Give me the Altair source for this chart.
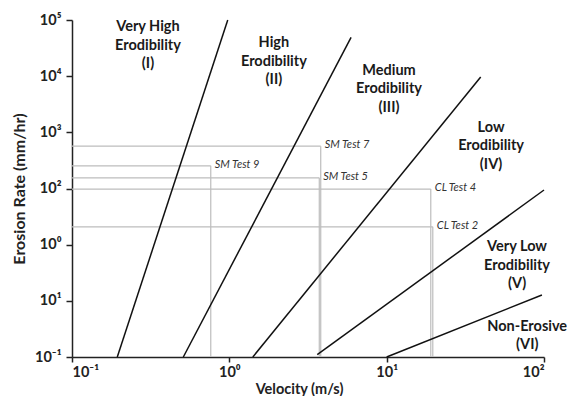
import math

import altair as alt
import pandas as pd

# Boundaries between erodibility zones: straight lines in log-log space,
# each given by its lower and upper end point (velocity m/s, erosion rate mm/hr)
boundary_names = ["I-II", "II-III", "III-IV", "IV-V", "V-VI"]
boundary_v_start = [0.194, 0.51, 1.41, 3.62, 10.0]
boundary_e_start = [0.1, 0.1, 0.1, 0.11, 0.1]
boundary_v_end = [0.977, 5.94, 39.6, 100.0, 97.0]
boundary_e_end = [1.0e5, 4.9e4, 9.7e3, 94.0, 1.27]

# Erosion test results
test_names = ["SM Test 7", "SM Test 9", "SM Test 5", "CL Test 4", "CL Test 2"]
test_velocity = [3.81, 0.762, 3.73, 19.07, 19.64]
test_rate = [568.0, 253.0, 155.0, 97.5, 20.8]

# Zone captions, anchored at their first line (data coordinates)
zone_labels = [
    "Very High\nErodibility\n(I)",
    "High\nErodibility\n(II)",
    "Medium\nErodibility\n(III)",
    "Low\nErodibility\n(IV)",
    "Very Low\nErodibility\n(V)",
    "Non-Erosive\n(VI)",
]
zone_label_v = [0.304, 1.92, 10.35, 46.1, 67.4, 78.2]
zone_label_e = [7.45e4, 3.82e4, 1.24e4, 1.20e3, 9.06, 0.346]

# Axis ticks and the labels printed next to them
x_ticks = [0.1, 1.0, 10.0, 100.0]
x_tick_labels = ["10⁻¹", "10⁰", "10¹", "10²"]
y_ticks = [0.1, 1.0, 10.0, 100.0, 1000.0, 1.0e4, 1.0e5]
y_tick_labels = ["10⁻¹", "10¹", "10⁰", "10²", "10³", "10⁴", "10⁵"]

V_MIN, V_MAX = 0.1, 100.0
E_MIN, E_MAX = 0.1, 1.0e5


def label_expr(values, labels):
    expr = "''"
    for v, lab in reversed(list(zip(values, labels))):
        exp = round(math.log10(v))
        expr = f"round(log(datum.value)/LN10) == {exp} ? '{lab}' : " + expr
    return expr


FONT = "Lato"

boundaries = pd.DataFrame({
    "name": boundary_names,
    "v0": boundary_v_start, "e0": boundary_e_start,
    "v1": boundary_v_end, "e1": boundary_e_end,
})
tests = pd.DataFrame({
    "name": test_names, "v": test_velocity, "e": test_rate,
    "vmin": [V_MIN] * len(test_names), "emin": [E_MIN] * len(test_names),
})
zones = pd.DataFrame({"label": zone_labels, "v": zone_label_v, "e": zone_label_e})

x_scale = alt.Scale(type="log", domain=[V_MIN, V_MAX], nice=False)
y_scale = alt.Scale(type="log", domain=[E_MIN, E_MAX], nice=False)

x_axis = alt.Axis(
    title="Velocity (m/s)", values=x_ticks, grid=False,
    labelExpr=label_expr(x_ticks, x_tick_labels),
    labelFont=FONT, labelFontSize=14.5, labelFontWeight="bold", labelColor="#222",
    labelPadding=3, tickSize=5, tickColor="#222", domainColor="#222",
    domainWidth=1.5, tickWidth=1.5,
    titleFont=FONT, titleFontSize=14.5, titleFontWeight="bold", titleColor="#222",
    titlePadding=4, titleX=227, titleAnchor="middle",
)
y_axis = alt.Axis(
    title="Erosion Rate (mm/hr)", values=y_ticks, grid=False,
    labelExpr=label_expr(y_ticks, y_tick_labels),
    labelFont=FONT, labelFontSize=14.5, labelFontWeight="bold", labelColor="#222",
    labelPadding=5, tickSize=6, tickColor="#222", domainColor="#222",
    domainWidth=1.5, tickWidth=1.5,
    titleFont=FONT, titleFontSize=16, titleFontWeight="bold", titleColor="#222",
    titlePadding=7,
)

# gray guide lines from each test point to the axes
test_h = alt.Chart(tests).mark_rule(color="#bdbdbd", strokeWidth=1.2).encode(
    x=alt.X("vmin:Q", scale=x_scale, axis=x_axis),
    x2="v:Q",
    y=alt.Y("e:Q", scale=y_scale, axis=y_axis),
)
test_v = alt.Chart(tests).mark_rule(color="#bdbdbd", strokeWidth=1.2).encode(
    x=alt.X("v:Q", scale=x_scale),
    y=alt.Y("emin:Q", scale=y_scale),
    y2="e:Q",
)
test_text = alt.Chart(tests).mark_text(
    align="left", baseline="middle", dx=4, dy=-1,
    font=FONT, fontSize=11, fontStyle="italic", color="#333",
).encode(
    x=alt.X("v:Q", scale=x_scale),
    y=alt.Y("e:Q", scale=y_scale),
    text="name:N",
)

boundary_lines = alt.Chart(boundaries).mark_rule(color="#111", strokeWidth=1.5).encode(
    x=alt.X("v0:Q", scale=x_scale),
    y=alt.Y("e0:Q", scale=y_scale),
    x2="v1:Q",
    y2="e1:Q",
)

zone_text = alt.Chart(zones).mark_text(
    align="center", baseline="middle", lineBreak="\n", lineHeight=18.5,
    font=FONT, fontSize=14.5, fontWeight="bold", color="#1a1a1a",
).encode(
    x=alt.X("v:Q", scale=x_scale),
    y=alt.Y("e:Q", scale=y_scale),
    text="label:N",
)

chart = alt.layer(test_h, test_v, test_text, boundary_lines, zone_text).properties(
    width=472,
    height=337,
    autosize=alt.AutoSizeParams(type="none"),
    padding={"left": 72, "top": 20, "right": 23, "bottom": 39},
    background="white",
).configure_view(stroke=None)

chart.save("out.html", embed_options={"renderer": "svg", "actions": False})
